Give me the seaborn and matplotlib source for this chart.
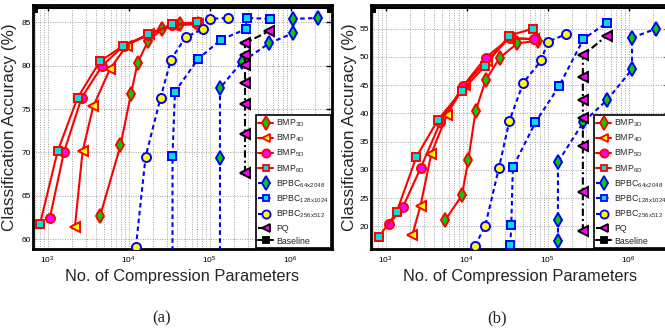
import numpy as np
import pandas as pd
import matplotlib
matplotlib.use("Agg")
import matplotlib.pyplot as plt
import seaborn as sns
from matplotlib.lines import Line2D
from matplotlib.ticker import LogLocator, NullFormatter, FixedLocator

sns.set_theme(style="white")
plt.rcParams["font.family"] = ["Liberation Sans", "DejaVu Sans"]
plt.rcParams["mathtext.fontset"] = "custom"
plt.rcParams["mathtext.rm"] = "Liberation Sans"
plt.rcParams["mathtext.it"] = "Liberation Sans"

series_names = ["BMP3D", "BMP4D", "BMP5D", "BMP6D",
                "BPBC64x2048", "BPBC128x1024", "BPBC256x512", "PQ", "Baseline"]
legend_labels = [r"BMP$_{\mathregular{3D}}$", r"BMP$_{\mathregular{4D}}$",
                 r"BMP$_{\mathregular{5D}}$", r"BMP$_{\mathregular{6D}}$",
                 r"BPBC$_{\mathregular{64x2048}}$", r"BPBC$_{\mathregular{128x1024}}$",
                 r"BPBC$_{\mathregular{256x512}}$", "PQ", "Baseline"]

# ---- panel (a) ----
a_BMP3D_x = [4430, 7940, 10670, 12900, 17470, 26000, 43000, 72000]
a_BMP3D_y = [62.6, 70.8, 76.7, 80.3, 82.9, 84.2, 84.8, 84.8]
a_BMP4D_x = [2175, 2700, 3660, 5870, 9440, 17800, 35500, 72000]
a_BMP4D_y = [61.4, 70.1, 75.3, 79.6, 82.3, 83.7, 84.7, 84.8]
a_BMP5D_x = [1067, 1590, 2630, 4720, 8700, 17460, 33900, 69000]
a_BMP5D_y = [62.45, 70.0, 76.3, 80.0, 82.3, 83.5, 84.7, 84.8]
a_BMP6D_x = [804, 1327, 2345, 4430, 8570, 17460, 33900, 69000]
a_BMP6D_y = [61.7, 70.1, 76.3, 80.5, 82.3, 83.6, 84.8, 85.0]
a_BPBC64_x = [134000, 134000, 134000, 248000, 545000, 1070000, 1070000, 2190000]
a_BPBC64_y = [55.0, 69.3, 77.4, 80.4, 82.6, 83.75, 85.4, 85.5]
a_BPBC128_x = [34800, 34800, 37300, 72500, 138000, 278000, 286000, 556000]
a_BPBC128_y = [55.0, 69.6, 77.0, 80.8, 83.0, 84.2, 85.5, 85.4]
a_BPBC256_x = [12300, 16200, 24800, 33300, 50600, 83000, 100000, 169000]
a_BPBC256_y = [59.1, 69.5, 76.3, 80.7, 83.3, 84.2, 85.4, 85.5]
a_PQ_x = [273000, 273000, 273000, 273000, 273000, 273000, 273000, 545000]
a_PQ_y = [67.6, 72.1, 75.6, 78.0, 80.1, 81.2, 82.6, 84.0]
a_Base_x = [660, 3200000]
a_Base_y = [86.7, 86.7]

# ---- panel (b) ----
b_BMP3D_x = [5440, 8750, 10500, 12900, 17200, 25800, 42200, 76400]
b_BMP3D_y = [21.1, 25.5, 31.8, 40.4, 45.9, 49.9, 52.4, 52.9]
b_BMP4D_x = [2130, 2700, 3670, 5730, 9500, 17700, 34000, 68000]
b_BMP4D_y = [18.4, 23.7, 32.9, 39.8, 45.1, 49.3, 53.4, 53.1]
b_BMP5D_x = [1100, 1630, 2700, 4730, 9100, 17200, 34000, 67000]
b_BMP5D_y = [20.4, 23.4, 30.3, 38.4, 44.9, 49.9, 53.3, 53.2]
b_BMP6D_x = [830, 1365, 2400, 4440, 8750, 16900, 33600, 66000]
b_BMP6D_y = [18.2, 22.5, 32.3, 38.9, 44.0, 48.4, 53.8, 55.0]
b_BPBC64_x = [134000, 134000, 134000, 277000, 543000, 1100000, 1100000, 2170000]
b_BPBC64_y = [17.5, 21.2, 31.4, 38.5, 42.4, 47.8, 53.4, 55.0]
b_BPBC128_x = [34600, 35600, 37200, 70800, 138000, 277000, 544000]
b_BPBC128_y = [16.7, 20.3, 30.45, 38.45, 44.8, 53.2, 56.1]
b_BPBC256_x = [12700, 16900, 25000, 33600, 49900, 83700, 100000, 168000]
b_BPBC256_y = [16.6, 20.0, 30.3, 38.6, 45.4, 49.4, 52.7, 54.0]
b_PQ_x = [272000, 272000, 272000, 272000, 272000, 272000, 272000, 543000]
b_PQ_y = [19.1, 26.05, 34.2, 39.2, 42.45, 46.4, 50.3, 53.8]
b_Base_x = [660, 3200000]
b_Base_y = [58.65, 58.65]

a_y_ticks = [60, 65, 70, 75, 80, 85]
b_y_ticks = [20, 25, 30, 35, 40, 45, 50, 55]
x_ticks = [1e3, 1e4, 1e5, 1e6]
x_tick_labels = [r"10$^{3}$", r"10$^{4}$", r"10$^{5}$", r"10$^{6}$"]

panel_a = [(a_BMP3D_x, a_BMP3D_y), (a_BMP4D_x, a_BMP4D_y), (a_BMP5D_x, a_BMP5D_y),
           (a_BMP6D_x, a_BMP6D_y), (a_BPBC64_x, a_BPBC64_y), (a_BPBC128_x, a_BPBC128_y),
           (a_BPBC256_x, a_BPBC256_y), (a_PQ_x, a_PQ_y), (a_Base_x, a_Base_y)]
panel_b = [(b_BMP3D_x, b_BMP3D_y), (b_BMP4D_x, b_BMP4D_y), (b_BMP5D_x, b_BMP5D_y),
           (b_BMP6D_x, b_BMP6D_y), (b_BPBC64_x, b_BPBC64_y), (b_BPBC128_x, b_BPBC128_y),
           (b_BPBC256_x, b_BPBC256_y), (b_PQ_x, b_PQ_y), (b_Base_x, b_Base_y)]

RED, BLUE = "#ff0000", "#0000ff"
dash_b = (0, (2.2, 1.6))
styles = {
    "BMP3D": dict(color=RED, ls="-", marker="d", mfc="#00d000", ms=7.5),
    "BMP4D": dict(color=RED, ls="-", marker="<", mfc="#ffff00", ms=7),
    "BMP5D": dict(color=RED, ls="-", marker="o", mfc="#ff00ff", ms=6.5),
    "BMP6D": dict(color=RED, ls="-", marker="s", mfc="#00e0e0", ms=5.5),
    "BPBC64x2048": dict(color=BLUE, ls=dash_b, marker="d", mfc="#00d000", ms=7.5),
    "BPBC128x1024": dict(color=BLUE, ls=dash_b, marker="s", mfc="#00e0e0", ms=5.5),
    "BPBC256x512": dict(color=BLUE, ls=dash_b, marker="o", mfc="#ffff00", ms=6.5),
    "PQ": dict(color="black", ls=(0, (3.5, 1.5, 1, 1.5)), marker="<", mfc="#ff00ff", ms=7),
    "Baseline": dict(color="black", ls="-", marker="s", mfc="black", ms=5.5),
}

fig = plt.figure(figsize=(6.65, 3.35), dpi=100)
W, H = 665.0, 335.0
ax_a = fig.add_axes([33 / W, (H - 249) / H, 299 / W, 244 / H])
ax_b = fig.add_axes([371 / W, (H - 249) / H, 299 / W, 244 / H])


def draw(ax, data, ylim, yticks, ylab_x):
    ax.set_xscale("log")
    handles = []
    for name, (xs, ys) in zip(series_names, data):
        st = styles[name]
        sns.lineplot(x=xs, y=ys, ax=ax, estimator=None, sort=False,
                     color=st["color"], linestyle=st["ls"], linewidth=1.5,
                     marker=st["marker"], markersize=st["ms"],
                     markerfacecolor=st["mfc"], markeredgecolor=st["color"],
                     markeredgewidth=1.4, legend=False, zorder=3)
        handles.append(Line2D([], [], color=st["color"], linestyle=st["ls"], linewidth=1.5,
                              marker=st["marker"], markersize=st["ms"] * 0.9,
                              markerfacecolor=st["mfc"], markeredgecolor=st["color"],
                              markeredgewidth=1.3))
    ax.set_xlim(10 ** 2.82, 10 ** 6.51)
    ax.set_ylim(*ylim)
    ax.set_yticks(yticks)
    ax.set_yticklabels([str(t) for t in yticks])
    ax.xaxis.set_major_locator(FixedLocator(x_ticks))
    ax.set_xticklabels(x_tick_labels)
    ax.xaxis.set_minor_locator(LogLocator(base=10, subs=np.arange(2, 10), numticks=20))
    ax.xaxis.set_minor_formatter(NullFormatter())
    ax.tick_params(axis="both", which="both", direction="in", colors="black",
                   labelsize=6, top=True, right=True)
    ax.tick_params(axis="both", which="major", length=4, width=1)
    ax.tick_params(axis="y", which="major", pad=1.5)
    ax.tick_params(axis="x", which="major", pad=4)
    ax.tick_params(axis="x", which="minor", length=2, width=0.8)
    ax.grid(True, which="major", axis="both", color="#a0a0a0", linestyle=(0, (1, 1.5)), linewidth=0.7)
    ax.grid(True, which="minor", axis="x", color="#a0a0a0", linestyle=(0, (1, 1.5)), linewidth=0.7)
    for sp in ax.spines.values():
        sp.set_color("black")
        sp.set_linewidth(2)
    ax.set_xlabel("No. of Compression Parameters", fontsize=11.8, labelpad=2)
    ax.set_ylabel("Classification Accuracy (%)", fontsize=12.3)
    ax.yaxis.set_label_coords(ylab_x, 0.5)
    leg = ax.legend(handles, legend_labels, loc="lower right", bbox_to_anchor=(1.0, 0.0),
                    fontsize=6.3, frameon=True, fancybox=False, framealpha=1,
                    edgecolor="black", borderpad=0.3, labelspacing=0.42,
                    handlelength=1.7, handletextpad=0.3, borderaxespad=0.1)
    leg.get_frame().set_linewidth(1.2)
    leg.set_zorder(5)


draw(ax_a, panel_a, (58.85, 87.0), a_y_ticks, (17 - 33) / 299)
draw(ax_b, panel_b, (16.0, 59.2), b_y_ticks, (357 - 371) / 299)

fig.text(162 / W, 1 - 318 / H, "(a)", family="Liberation Serif", fontsize=12,
         ha="center", va="center")
fig.text(497 / W, 1 - 318 / H, "(b)", family="Liberation Serif", fontsize=12,
         ha="center", va="center")

fig.savefig("out.png", dpi=100)
